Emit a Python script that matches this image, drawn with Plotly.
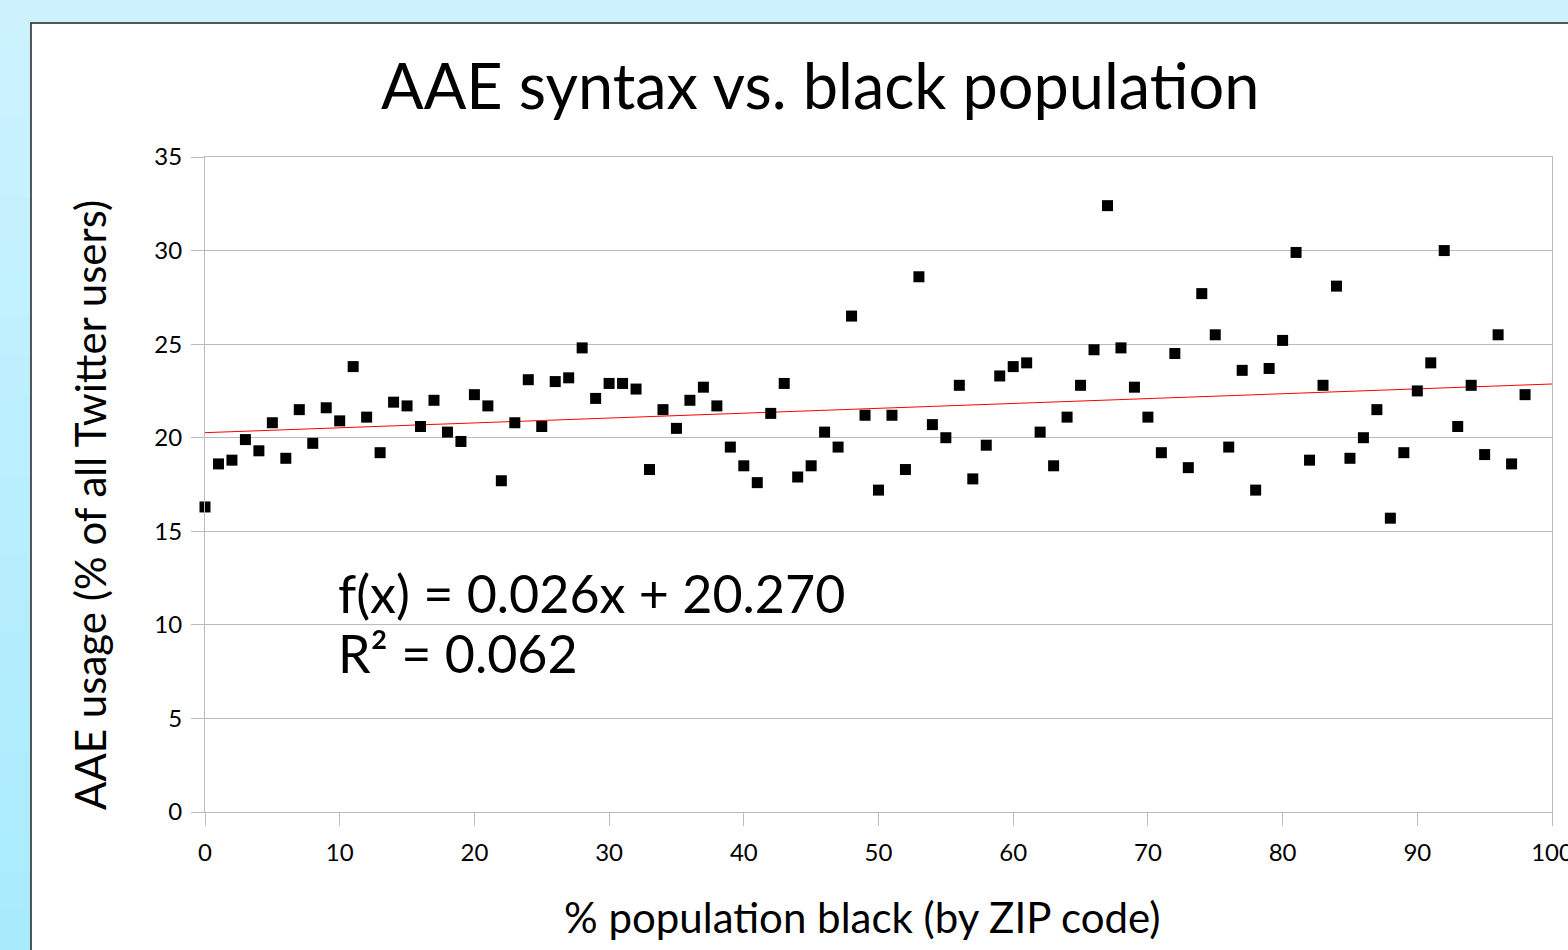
import plotly.graph_objects as go

# ---- data ----
pct_black = list(range(0, 99))
aae_usage = [16.3, 18.6, 18.8, 19.9, 19.3, 20.8, 18.9, 21.5, 19.7, 21.6,
             20.9, 23.8, 21.1, 19.2, 21.9, 21.7, 20.6, 22.0, 20.3, 19.8,
             22.3, 21.7, 17.7, 20.8, 23.1, 20.6, 23.0, 23.2, 24.8, 22.1,
             22.9, 22.9, 22.6, 18.3, 21.5, 20.5, 22.0, 22.7, 21.7, 19.5,
             18.5, 17.6, 21.3, 22.9, 17.9, 18.5, 20.3, 19.5, 26.5, 21.2,
             17.2, 21.2, 18.3, 28.6, 20.7, 20.0, 22.8, 17.8, 19.6, 23.3,
             23.8, 24.0, 20.3, 18.5, 21.1, 22.8, 24.7, 32.4, 24.8, 22.7,
             21.1, 19.2, 24.5, 18.4, 27.7, 25.5, 19.5, 23.6, 17.2, 23.7,
             25.2, 29.9, 18.8, 22.8, 28.1, 18.9, 20.0, 21.5, 15.7, 19.2,
             22.5, 24.0, 30.0, 20.6, 22.8, 19.1, 25.5, 18.6, 22.3]
trend_slope = 0.026
trend_intercept = 20.270
trend_x = [0, 100]
r_squared = 0.062
x_ticks = [0, 10, 20, 30, 40, 50, 60, 70, 80, 90, 100]
y_ticks = [0, 5, 10, 15, 20, 25, 30, 35]
title_text = "AAE syntax vs. black population"
x_title = "% population black (by ZIP code)"
y_title = "AAE usage (% of all Twitter users)"

FONT = "Lato"
W, H = 1568, 950
L, R, T, B = 205, 16, 157, 138
pw, ph = W - L - R, H - T - B

def px_x(p):
    return (p - L) / pw

def px_y(p):
    return (H - B - p) / ph

fig = go.Figure()
fig.add_trace(go.Scatter(
    x=trend_x, y=[trend_slope * v + trend_intercept for v in trend_x],
    mode="lines", line=dict(color="#ff0000", width=1), hoverinfo="skip",
    showlegend=False))
fig.add_trace(go.Scatter(
    x=pct_black, y=aae_usage, mode="markers", cliponaxis=False,
    marker=dict(symbol="square", size=11, color="#000000", line=dict(width=0)),
    showlegend=False))

shapes = []
# background gradient strips (style only)
n = 24
top_c = (0xcc, 0xf2, 0xfe)
bot_c = (0xa8, 0xeb, 0xfd)
for i in range(n):
    f = i / (n - 1)
    c = tuple(round(top_c[k] + (bot_c[k] - top_c[k]) * f) for k in range(3))
    y0p = i * H / n
    y1p = (i + 1) * H / n + 1
    shapes.append(dict(type="rect", xref="paper", yref="paper", layer="below",
                       x0=px_x(0), x1=px_x(W), y0=px_y(y1p), y1=px_y(y0p),
                       fillcolor="rgb(%d,%d,%d)" % c, line=dict(width=0)))
# white panel with border
shapes.append(dict(type="rect", xref="paper", yref="paper", layer="below",
                   x0=px_x(31), x1=px_x(W + 20), y0=px_y(H + 20), y1=px_y(23),
                   fillcolor="white", line=dict(color="#222222", width=1.5)))

annotations = [
    dict(text=title_text, xref="paper", yref="paper", x=px_x(820), y=px_y(85),
         xanchor="center", yanchor="middle", showarrow=False,
         font=dict(family=FONT, size=63, color="black")),
    dict(text=x_title, xref="paper", yref="paper", x=px_x(862), y=px_y(917),
         xanchor="center", yanchor="middle", showarrow=False,
         font=dict(family=FONT, size=42, color="black")),
    dict(text=y_title, xref="paper", yref="paper", x=px_x(90), y=px_y(505),
         xanchor="center", yanchor="middle", showarrow=False, textangle=-90,
         font=dict(family=FONT, size=42, color="black")),
    dict(text="f(x) = %.3fx + %.3f" % (trend_slope, trend_intercept),
         xref="paper", yref="paper", x=px_x(336), y=px_y(560),
         xanchor="left", yanchor="top", align="left", showarrow=False,
         font=dict(family=FONT, size=52, color="black")),
    dict(text="R² = %.3f" % r_squared,
         xref="paper", yref="paper", x=px_x(336), y=px_y(620),
         xanchor="left", yanchor="top", align="left", showarrow=False,
         font=dict(family=FONT, size=52, color="black")),
]

fig.update_layout(
    width=W, height=H,
    margin=dict(l=L, r=R, t=T, b=B, autoexpand=False),
    paper_bgcolor="#bdeefd",
    plot_bgcolor="white",
    shapes=shapes,
    font=dict(family=FONT, color="black"),
    xaxis=dict(range=[0, 100], tickvals=x_ticks, ticks="outside", ticklen=13,
               tickcolor="#bbbbbb", showgrid=False, zeroline=False,
               showline=True, linecolor="#bbbbbb", linewidth=1, mirror=True,
               tickfont=dict(size=24, family=FONT), ticklabelstandoff=6,
               ticklabeloverflow="allow"),
    yaxis=dict(range=[0, 35], tickvals=y_ticks, ticks="outside", ticklen=13,
               tickcolor="#bbbbbb", showgrid=True, gridcolor="#bbbbbb",
               gridwidth=1, zeroline=False, showline=True, linecolor="#bbbbbb",
               linewidth=1, mirror=True, tickfont=dict(size=24, family=FONT),
               ticklabelstandoff=4),
    annotations=annotations,
)

fig.write_html("out.html", config={"displayModeBar": False},
               post_script="document.body.style.margin='0';"
                           "document.body.style.padding='0';")
